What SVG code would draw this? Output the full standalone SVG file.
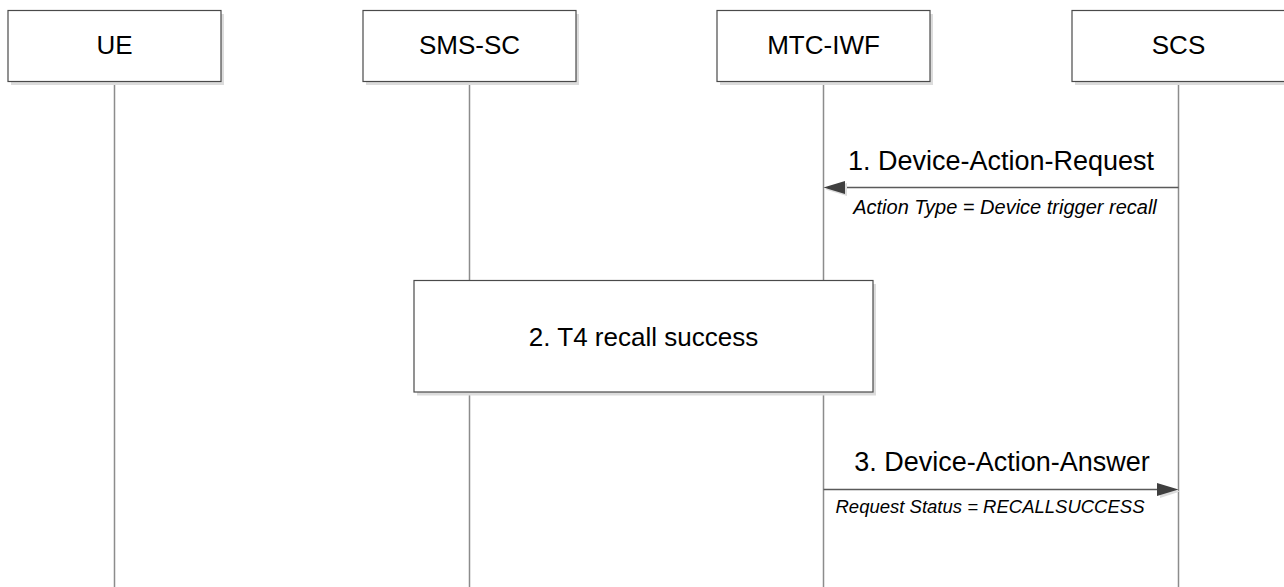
<svg xmlns="http://www.w3.org/2000/svg" width="1284" height="587" viewBox="0 0 1284 587">
<style>
.shadow{fill:#dcdcdc;stroke:none}
.box{fill:#ffffff;stroke:#4a4a4a;stroke-width:1.2}
.life{stroke:#8c8c8c;stroke-width:1.5;fill:none}
.msg{stroke:#5a5a5a;stroke-width:1.3;fill:none}
.head{fill:#3f3f3f;stroke:none}
.lbl{font-family:"Liberation Sans",Arial,sans-serif;font-size:26px;fill:#000;text-anchor:middle}
.mlbl{font-family:"Liberation Sans",Arial,sans-serif;font-size:27px;fill:#000;text-anchor:middle}
.note{font-family:"Liberation Sans",Arial,sans-serif;font-style:italic;fill:#000;text-anchor:middle}
</style>
<rect width="1284" height="587" fill="#ffffff"/>
<g id="lifelines">
<line class="life" x1="114.5" y1="81" x2="114.5" y2="587"/>
<line class="life" x1="469.5" y1="81" x2="469.5" y2="587"/>
<line class="life" x1="823.5" y1="81" x2="823.5" y2="587"/>
<line class="life" x1="1178.5" y1="81" x2="1178.5" y2="587"/>
</g>
<g id="node-ue">
<rect class="shadow" x="11" y="14" width="213" height="71"/>
<rect class="box" x="8" y="10.5" width="213" height="71"/>
<text class="lbl" x="114.5" y="54">UE</text>
</g>
<g id="node-smssc">
<rect class="shadow" x="366" y="14" width="213" height="71"/>
<rect class="box" x="363" y="10.5" width="213" height="71"/>
<text class="lbl" x="469.5" y="54">SMS-SC</text>
</g>
<g id="node-mtciwf">
<rect class="shadow" x="720" y="14" width="213" height="71"/>
<rect class="box" x="717" y="10.5" width="213" height="71"/>
<text class="lbl" x="823.5" y="54">MTC-IWF</text>
</g>
<g id="node-scs">
<rect class="shadow" x="1075" y="14" width="213" height="71"/>
<rect class="box" x="1072" y="10.5" width="213" height="71"/>
<text class="lbl" x="1178.5" y="54">SCS</text>
</g>
<g id="step2">
<rect class="shadow" x="417" y="284" width="459" height="111.5"/>
<rect class="box" x="414" y="280.5" width="459" height="111.5"/>
<text class="lbl" x="643.5" y="346">2. T4 recall success</text>
</g>
<g id="connectors">
<g id="msg1">
<line class="msg" x1="1178.5" y1="187.5" x2="843" y2="187.5"/>
<polygon class="shadow" points="825.5,189.5 847,183 847,196"/>
<polygon class="head" points="823.5,187.5 845,181 845,194"/>
<text class="mlbl" x="1001" y="170">1. Device-Action-Request</text>
<text class="note" x="1005" y="214" font-size="20">Action Type = Device trigger recall</text>
</g>
<g id="msg3">
<line class="msg" x1="823.5" y1="489.5" x2="1159" y2="489.5"/>
<polygon class="shadow" points="1160,485 1160,498 1180,491.5"/>
<polygon class="head" points="1178.5,489.5 1157,483 1157,496"/>
<text class="mlbl" x="1002" y="471">3. Device-Action-Answer</text>
<text class="note" x="990" y="513" font-size="18.5">Request Status = RECALLSUCCESS</text>
</g>
</g>
</svg>
